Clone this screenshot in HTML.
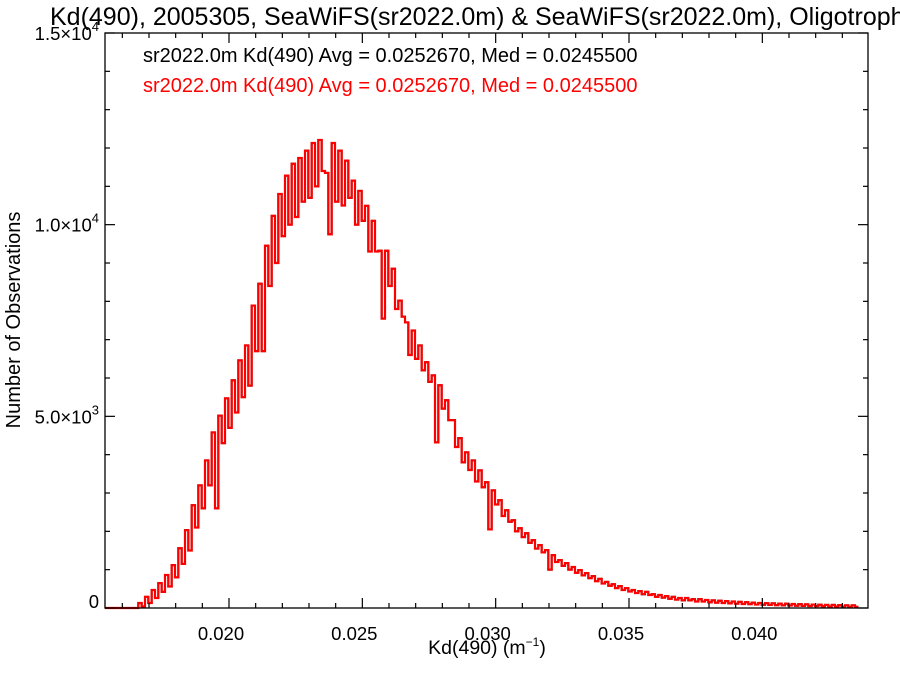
<!DOCTYPE html>
<html><head><meta charset="utf-8"><style>
html,body{margin:0;padding:0;background:#fff;}
svg{display:block;font-family:"Liberation Sans",sans-serif;}
</style></head><body>
<svg id="chart" width="900" height="675" viewBox="0 0 900 675">
<text x="50" y="25" font-size="25" fill="#000">Kd(490), 2005305, SeaWiFS(sr2022.0m) &amp; SeaWiFS(sr2022.0m), Oligotrophic</text>
<g id="hist"></g>
<rect x="105" y="33" width="763" height="575" fill="none" stroke="#000" stroke-width="1.3"/>
<g id="axes"></g>
<text x="143" y="62" font-size="20" fill="#000">sr2022.0m Kd(490) Avg = 0.0252670, Med = 0.0245500</text>
<text x="143" y="92" font-size="20" fill="#ff0000">sr2022.0m Kd(490) Avg = 0.0252670, Med = 0.0245500</text>
<text x="487" y="654" font-size="19.5" text-anchor="middle">Kd(490) (m<tspan dy="-8" font-size="12">−1</tspan><tspan dy="8">)</tspan></text>
<text transform="translate(20,320) rotate(-90)" font-size="20" text-anchor="middle">Number of Observations</text>
</svg>
<script>
const binStart = 0.01535;
const binWidth = 0.000125;
const hiCounts = [0,0,0,0,0,130,290,470,650,860,1120,1560,2030,2680,3200,3850,4580,5020,5470,5940,6460,6850,7890,8460,9450,10230,10800,11280,11590,11740,11930,12130,12210,11350,12130,11930,11670,11150,10880,10490,10100,9320,9320,8850,8020,7450,7240,6850,6410,6070,5810,5420,4900,4430,4060,3850,3590,3280,3070,2810,2550,2290,2080,1950,1770,1640,1510,1380,1250,1170,1070,990,910,830,760,680,620,570,520,470,440,420,360,340,310,290,260,260,230,230,210,200,190,180,170,160,150,140,130,125,120,115,110,105,100,95,90,85,80,80,75,70,70];
const loCounts = [0,0,0,0,0,40,130,260,420,560,800,1150,1500,2100,2600,3200,2600,4300,4700,5100,5500,5800,6700,6700,8400,9000,9700,10000,10200,10600,10700,11000,11400,9750,10600,10500,10700,10000,10100,9300,9300,7550,8400,7800,7600,6600,6500,6200,5900,4320,5200,4900,4200,3800,3600,3300,3150,2050,2700,2400,2250,2000,1850,1700,1550,1450,1000,1200,1100,1000,920,850,780,700,640,580,520,470,430,390,360,340,290,270,240,220,200,200,170,170,150,140,130,120,115,105,100,90,85,80,75,70,65,60,55,50,50,45,40,40,35,30,30];
const xTickValues = [0.020,0.025,0.030,0.035,0.040];
const xTickLabels = ["0.020","0.025","0.030","0.035","0.040"];
const yTickValues = [0,5000,10000,15000];
const yTickMant = ["0","5.0","1.0","1.5"];
const yTickExp = ["","3","4","4"];

const NS="http://www.w3.org/2000/svg";
const X0=105,X1=868,Y0=608,Y1=33;
const xMin=0.020-(229-X0)/26666.7, xMax=xMin+(X1-X0)/26666.7;
const yMax=15000;
function xs(v){return X0+(v-xMin)/(xMax-xMin)*(X1-X0);}
function ys(v){return Y0-v/yMax*(Y0-Y1);}
function mk(tag,attrs,parent){const e=document.createElementNS(NS,tag);for(const k in attrs)e.setAttribute(k,attrs[k]);parent.appendChild(e);return e;}

const hist=document.getElementById('hist');
let d='M'+X0+','+ys(0);
const bins=[];
for(let i=0;i<hiCounts.length;i++){bins.push(hiCounts[i]);bins.push(loCounts[i]);}
for(let j=0;j<bins.length;j++){
  const a=xs(binStart+j*binWidth), b=Math.min(X1,xs(binStart+(j+1)*binWidth));
  if(a>=X1)break;
  d+=' L'+Math.max(X0,a).toFixed(2)+','+ys(bins[j]).toFixed(2)+' L'+b.toFixed(2)+','+ys(bins[j]).toFixed(2);
}
const pb=mk('path',{d:d,fill:'none',stroke:'#000','stroke-width':2},hist);


const pr=mk('path',{d:d,fill:'none',stroke:'#ff0000','stroke-width':2.2},hist);



const axes=document.getElementById('axes');
for(let v=0.016;v<=0.0440001;v+=0.001){
  const x=xs(v); if(x<X0||x>X1)continue;
  const major=Math.abs(Math.round(v*1000)%5)===0;
  const L=major?10:5;
  const t1=mk('line',{x1:x,y1:Y0,x2:x,y2:Y0-L,stroke:'#000','stroke-width':1.2},axes);
  
  
  const t2=mk('line',{x1:x,y1:Y1,x2:x,y2:Y1+L,stroke:'#000','stroke-width':1.2},axes);
  
  
}
xTickValues.forEach((v,i)=>{
  const t=mk('text',{x:xs(v)-8,y:640,'font-size':18.5,'text-anchor':'middle'},axes);
  t.textContent=xTickLabels[i];
  
  
});
for(let v=0;v<=15000;v+=1000){
  const y=ys(v);const major=v%5000===0;const L=major?10:5;
  const a=mk('line',{x1:X0,y1:y,x2:X0+L,y2:y,stroke:'#000','stroke-width':1.2},axes);
  
  
  const b=mk('line',{x1:X1,y1:y,x2:X1-L,y2:y,stroke:'#000','stroke-width':1.2},axes);
  
  
}
yTickValues.forEach((v,i)=>{
  const t=mk('text',{x:99,y:ys(v)+(v===0?0:7),'font-size':18.5,'text-anchor':'end'},axes);
  
  
  if(yTickExp[i]===''){t.textContent=yTickMant[i];}
  else{
    t.appendChild(document.createTextNode(yTickMant[i]+'×10'));
    const s=document.createElementNS(NS,'tspan');s.setAttribute('dy','-9');s.setAttribute('font-size','13');s.textContent=yTickExp[i];t.appendChild(s);
  }
});
</script>
</body></html>
